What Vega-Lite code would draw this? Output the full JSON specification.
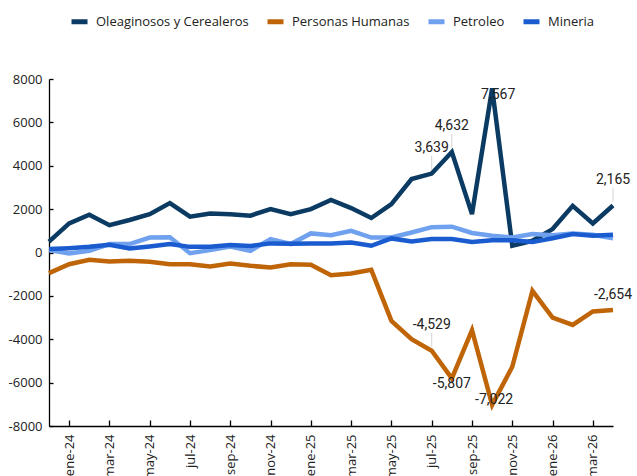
{
  "$schema": "https://vega.github.io/schema/vega-lite/v6.json",
  "autosize": "none",
  "width": 564,
  "height": 347,
  "padding": {"left": 49, "top": 79, "right": 24, "bottom": 50},
  "background": "#ffffff",
  "config": {
    "view": {"stroke": null},
    "locale": {"number": {"decimal": ".", "thousands": ",", "grouping": [3], "currency": ["$", ""], "minus": "-"}},
    "axis": {"labelFont": "Open Sans", "labelFontSize": 13, "labelColor": "#222222", "grid": false, "domainColor": "#000000", "tickColor": "#000000", "domainWidth": 1.3, "tickWidth": 1.3, "title": null}
  },
  "data": {"values": [
    {"mes": "dic-23", "serie": "Oleaginosos y Cerealeros", "valor": 500},
    {"mes": "ene-24", "serie": "Oleaginosos y Cerealeros", "valor": 1340},
    {"mes": "feb-24", "serie": "Oleaginosos y Cerealeros", "valor": 1740},
    {"mes": "mar-24", "serie": "Oleaginosos y Cerealeros", "valor": 1260},
    {"mes": "abr-24", "serie": "Oleaginosos y Cerealeros", "valor": 1500},
    {"mes": "may-24", "serie": "Oleaginosos y Cerealeros", "valor": 1770},
    {"mes": "jun-24", "serie": "Oleaginosos y Cerealeros", "valor": 2280},
    {"mes": "jul-24", "serie": "Oleaginosos y Cerealeros", "valor": 1650},
    {"mes": "ago-24", "serie": "Oleaginosos y Cerealeros", "valor": 1800},
    {"mes": "sep-24", "serie": "Oleaginosos y Cerealeros", "valor": 1760},
    {"mes": "oct-24", "serie": "Oleaginosos y Cerealeros", "valor": 1700},
    {"mes": "nov-24", "serie": "Oleaginosos y Cerealeros", "valor": 2000},
    {"mes": "dic-24", "serie": "Oleaginosos y Cerealeros", "valor": 1770},
    {"mes": "ene-25", "serie": "Oleaginosos y Cerealeros", "valor": 2000},
    {"mes": "feb-25", "serie": "Oleaginosos y Cerealeros", "valor": 2420},
    {"mes": "mar-25", "serie": "Oleaginosos y Cerealeros", "valor": 2050},
    {"mes": "abr-25", "serie": "Oleaginosos y Cerealeros", "valor": 1590},
    {"mes": "may-25", "serie": "Oleaginosos y Cerealeros", "valor": 2230},
    {"mes": "jun-25", "serie": "Oleaginosos y Cerealeros", "valor": 3390},
    {"mes": "jul-25", "serie": "Oleaginosos y Cerealeros", "valor": 3639},
    {"mes": "ago-25", "serie": "Oleaginosos y Cerealeros", "valor": 4632},
    {"mes": "sep-25", "serie": "Oleaginosos y Cerealeros", "valor": 1770},
    {"mes": "oct-25", "serie": "Oleaginosos y Cerealeros", "valor": 7567},
    {"mes": "nov-25", "serie": "Oleaginosos y Cerealeros", "valor": 310},
    {"mes": "dic-25", "serie": "Oleaginosos y Cerealeros", "valor": 540},
    {"mes": "ene-26", "serie": "Oleaginosos y Cerealeros", "valor": 1080},
    {"mes": "feb-26", "serie": "Oleaginosos y Cerealeros", "valor": 2150},
    {"mes": "mar-26", "serie": "Oleaginosos y Cerealeros", "valor": 1340},
    {"mes": "abr-26", "serie": "Oleaginosos y Cerealeros", "valor": 2165},
    {"mes": "dic-23", "serie": "Personas Humanas", "valor": -950},
    {"mes": "ene-24", "serie": "Personas Humanas", "valor": -540},
    {"mes": "feb-24", "serie": "Personas Humanas", "valor": -340},
    {"mes": "mar-24", "serie": "Personas Humanas", "valor": -415},
    {"mes": "abr-24", "serie": "Personas Humanas", "valor": -380},
    {"mes": "may-24", "serie": "Personas Humanas", "valor": -430},
    {"mes": "jun-24", "serie": "Personas Humanas", "valor": -540},
    {"mes": "jul-24", "serie": "Personas Humanas", "valor": -540},
    {"mes": "ago-24", "serie": "Personas Humanas", "valor": -645},
    {"mes": "sep-24", "serie": "Personas Humanas", "valor": -505},
    {"mes": "oct-24", "serie": "Personas Humanas", "valor": -615},
    {"mes": "nov-24", "serie": "Personas Humanas", "valor": -690},
    {"mes": "dic-24", "serie": "Personas Humanas", "valor": -540},
    {"mes": "ene-25", "serie": "Personas Humanas", "valor": -560},
    {"mes": "feb-25", "serie": "Personas Humanas", "valor": -1045},
    {"mes": "mar-25", "serie": "Personas Humanas", "valor": -970},
    {"mes": "abr-25", "serie": "Personas Humanas", "valor": -800},
    {"mes": "may-25", "serie": "Personas Humanas", "valor": -3150},
    {"mes": "jun-25", "serie": "Personas Humanas", "valor": -4000},
    {"mes": "jul-25", "serie": "Personas Humanas", "valor": -4529},
    {"mes": "ago-25", "serie": "Personas Humanas", "valor": -5807},
    {"mes": "sep-25", "serie": "Personas Humanas", "valor": -3580},
    {"mes": "oct-25", "serie": "Personas Humanas", "valor": -7022},
    {"mes": "nov-25", "serie": "Personas Humanas", "valor": -5270},
    {"mes": "dic-25", "serie": "Personas Humanas", "valor": -1770},
    {"mes": "ene-26", "serie": "Personas Humanas", "valor": -3000},
    {"mes": "feb-26", "serie": "Personas Humanas", "valor": -3340},
    {"mes": "mar-26", "serie": "Personas Humanas", "valor": -2720},
    {"mes": "abr-26", "serie": "Personas Humanas", "valor": -2654},
    {"mes": "dic-23", "serie": "Petroleo", "valor": 110},
    {"mes": "ene-24", "serie": "Petroleo", "valor": -50},
    {"mes": "feb-24", "serie": "Petroleo", "valor": 80},
    {"mes": "mar-24", "serie": "Petroleo", "valor": 390},
    {"mes": "abr-24", "serie": "Petroleo", "valor": 390},
    {"mes": "may-24", "serie": "Petroleo", "valor": 690},
    {"mes": "jun-24", "serie": "Petroleo", "valor": 700},
    {"mes": "jul-24", "serie": "Petroleo", "valor": -30},
    {"mes": "ago-24", "serie": "Petroleo", "valor": 110},
    {"mes": "sep-24", "serie": "Petroleo", "valor": 280},
    {"mes": "oct-24", "serie": "Petroleo", "valor": 80},
    {"mes": "nov-24", "serie": "Petroleo", "valor": 620},
    {"mes": "dic-24", "serie": "Petroleo", "valor": 390},
    {"mes": "ene-25", "serie": "Petroleo", "valor": 880},
    {"mes": "feb-25", "serie": "Petroleo", "valor": 800},
    {"mes": "mar-25", "serie": "Petroleo", "valor": 1000},
    {"mes": "abr-25", "serie": "Petroleo", "valor": 690},
    {"mes": "may-25", "serie": "Petroleo", "valor": 690},
    {"mes": "jun-25", "serie": "Petroleo", "valor": 920},
    {"mes": "jul-25", "serie": "Petroleo", "valor": 1170},
    {"mes": "ago-25", "serie": "Petroleo", "valor": 1190},
    {"mes": "sep-25", "serie": "Petroleo", "valor": 900},
    {"mes": "oct-25", "serie": "Petroleo", "valor": 770},
    {"mes": "nov-25", "serie": "Petroleo", "valor": 690},
    {"mes": "dic-25", "serie": "Petroleo", "valor": 850},
    {"mes": "ene-26", "serie": "Petroleo", "valor": 800},
    {"mes": "feb-26", "serie": "Petroleo", "valor": 880},
    {"mes": "mar-26", "serie": "Petroleo", "valor": 820},
    {"mes": "abr-26", "serie": "Petroleo", "valor": 660},
    {"mes": "dic-23", "serie": "Mineria", "valor": 160},
    {"mes": "ene-24", "serie": "Mineria", "valor": 200},
    {"mes": "feb-24", "serie": "Mineria", "valor": 260},
    {"mes": "mar-24", "serie": "Mineria", "valor": 355},
    {"mes": "abr-24", "serie": "Mineria", "valor": 185},
    {"mes": "may-24", "serie": "Mineria", "valor": 280},
    {"mes": "jun-24", "serie": "Mineria", "valor": 390},
    {"mes": "jul-24", "serie": "Mineria", "valor": 260},
    {"mes": "ago-24", "serie": "Mineria", "valor": 270},
    {"mes": "sep-24", "serie": "Mineria", "valor": 340},
    {"mes": "oct-24", "serie": "Mineria", "valor": 300},
    {"mes": "nov-24", "serie": "Mineria", "valor": 420},
    {"mes": "dic-24", "serie": "Mineria", "valor": 400},
    {"mes": "ene-25", "serie": "Mineria", "valor": 420},
    {"mes": "feb-25", "serie": "Mineria", "valor": 420},
    {"mes": "mar-25", "serie": "Mineria", "valor": 460},
    {"mes": "abr-25", "serie": "Mineria", "valor": 310},
    {"mes": "may-25", "serie": "Mineria", "valor": 650},
    {"mes": "jun-25", "serie": "Mineria", "valor": 510},
    {"mes": "jul-25", "serie": "Mineria", "valor": 620},
    {"mes": "ago-25", "serie": "Mineria", "valor": 620},
    {"mes": "sep-25", "serie": "Mineria", "valor": 480},
    {"mes": "oct-25", "serie": "Mineria", "valor": 570},
    {"mes": "nov-25", "serie": "Mineria", "valor": 570},
    {"mes": "dic-25", "serie": "Mineria", "valor": 490},
    {"mes": "ene-26", "serie": "Mineria", "valor": 660},
    {"mes": "feb-26", "serie": "Mineria", "valor": 850},
    {"mes": "mar-26", "serie": "Mineria", "valor": 770},
    {"mes": "abr-26", "serie": "Mineria", "valor": 820}
  ]},
  "encoding": {
    "x": {
      "field": "mes", "type": "ordinal", "sort": null,
      "scale": {"type": "point", "padding": 0},
      "axis": {
        "values": ["ene-24", "mar-24", "may-24", "jul-24", "sep-24", "nov-24", "ene-25", "mar-25", "may-25", "jul-25", "sep-25", "nov-25", "ene-26", "mar-26"],
        "labelAngle": -90, "tickSize": -6, "labelPadding": 14, "labelBound": false, "labelOverlap": false
      }
    },
    "y": {
      "field": "valor", "type": "quantitative",
      "scale": {"domain": [-8000, 8000], "nice": false, "zero": false},
      "axis": {"values": [-8000, -6000, -4000, -2000, 0, 2000, 4000, 6000, 8000], "format": "d", "tickSize": -4, "labelPadding": 11}
    }
  },
  "layer": [
    {
      "mark": {"type": "line", "strokeWidth": 4.5, "strokeJoin": "miter", "strokeCap": "butt"},
      "encoding": {
        "color": {
          "field": "serie", "type": "nominal", "sort": null,
          "scale": {"domain": ["Oleaginosos y Cerealeros", "Personas Humanas", "Petroleo", "Mineria"], "range": ["#0b3a62", "#bf6508", "#6fa1ee", "#1a5cd0"]},
          "legend": {
            "title": null, "orient": "none", "direction": "horizontal", "legendX": 20, "legendY": -68,
            "labelFont": "Open Sans", "labelFontSize": 13, "labelColor": "#222222",
            "symbolType": "M-1,0L1,0", "symbolSize": 256, "symbolStrokeWidth": 5,
            "labelOffset": 6, "columnPadding": 8
          }
        }
      }
    },
    {
      "transform": [{"filter": "(datum.serie == 'Oleaginosos y Cerealeros' && indexof(['jul-25','ago-25','abr-26'], datum.mes) >= 0) || (datum.serie == 'Personas Humanas' && datum.mes == 'jul-25')"}],
      "mark": {"type": "rule", "color": "#d4d4d4", "strokeWidth": 1, "yOffset": -4, "y2Offset": -18},
      "encoding": {"y2": {"field": "valor"}}
    },
    {
      "transform": [{"filter": "(datum.serie == 'Oleaginosos y Cerealeros' && indexof(['jul-25','ago-25','abr-26'], datum.mes) >= 0) || (datum.serie == 'Personas Humanas' && datum.mes == 'jul-25')"}],
      "mark": {"type": "text", "font": "Roboto", "fontSize": 14, "color": "#222222", "baseline": "middle", "dy": -26},
      "encoding": {"text": {"field": "valor", "type": "quantitative", "format": ",d"}}
    },
    {
      "transform": [{"filter": "datum.serie == 'Oleaginosos y Cerealeros' && datum.mes == 'oct-25'"}],
      "mark": {"type": "text", "font": "Roboto", "fontSize": 14, "color": "#222222", "baseline": "middle", "dx": 6, "dy": 7},
      "encoding": {"text": {"field": "valor", "type": "quantitative", "format": ",d"}}
    },
    {
      "transform": [{"filter": "datum.serie == 'Personas Humanas' && datum.mes == 'ago-25'"}],
      "mark": {"type": "text", "font": "Roboto", "fontSize": 14, "color": "#222222", "baseline": "middle", "dy": 6},
      "encoding": {"text": {"field": "valor", "type": "quantitative", "format": ",d"}}
    },
    {
      "transform": [{"filter": "datum.serie == 'Personas Humanas' && datum.mes == 'oct-25'"}],
      "mark": {"type": "text", "font": "Roboto", "fontSize": 14, "color": "#222222", "baseline": "middle", "dx": 2, "dy": -5},
      "encoding": {"text": {"field": "valor", "type": "quantitative", "format": ",d"}}
    },
    {
      "transform": [{"filter": "datum.serie == 'Personas Humanas' && datum.mes == 'abr-26'"}],
      "mark": {"type": "text", "font": "Roboto", "fontSize": 14, "color": "#222222", "baseline": "middle", "dy": -15},
      "encoding": {"text": {"field": "valor", "type": "quantitative", "format": ",d"}}
    }
  ]
}
